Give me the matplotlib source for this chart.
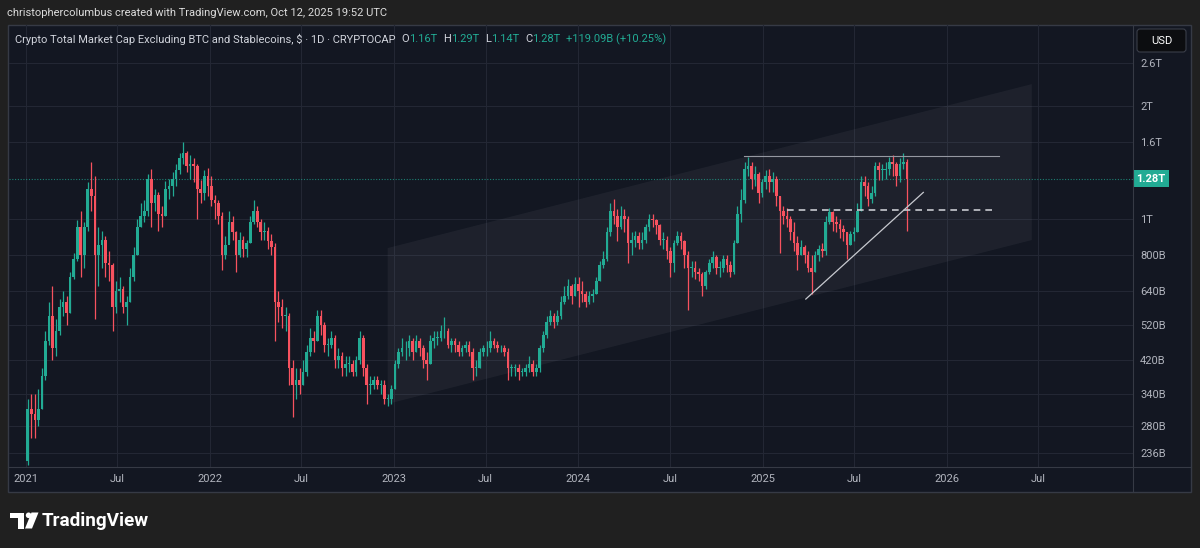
import numpy as np
import pandas as pd
import matplotlib
matplotlib.use('Agg')
import matplotlib.pyplot as plt
import matplotlib.dates as mdates
import matplotlib.transforms as mtransforms
from matplotlib.patches import Rectangle, Polygon, FancyBboxPatch, Circle
from matplotlib.ticker import NullLocator

W, H = 1200, 548
BG = '#202020'
PANEL = '#131722'
GRID = '#232734'
BORDER = '#363a45'
TEXT = '#b2b5be'
UP = '#22ab94'
DOWN = '#f7525f'

# weekly candles (values in billions USD), week 0 starts 2021-01-01
first_open = 225
close = [
    # 2021
    310, 300, 290, 310, 380, 470, 550, 450, 500, 580, 600, 560, 700, 780, 950, 800,
    950, 1200, 1150, 800, 850, 880, 760, 750, 580, 640, 650, 580, 600, 700, 800, 950,
    1020, 1050, 1280, 1100, 1160, 1030, 1020, 1200, 1220, 1280, 1350, 1450, 1500, 1380,
    1400, 1380, 1200, 1170, 1300, 1220,
    # 2022
    1120, 1100, 1020, 800, 850, 980, 920, 800, 880, 830, 860, 980, 1050, 980, 920, 930,
    870, 840, 600, 580, 550, 550, 400, 360, 370, 360, 390, 440, 480, 470, 550, 520,
    460, 460, 480, 420, 430, 400, 410, 410, 390, 420, 480, 400, 360, 360, 370, 360,
    360, 330, 330, 350,
    # 2023
    410, 440, 450, 450, 470, 440, 470, 450, 420, 410, 470, 480, 480, 500, 500, 460,
    470, 460, 440, 450, 460, 440, 400, 400, 440, 450, 450, 470, 460, 450, 450, 440,
    400, 400, 400, 390, 390, 400, 410, 390, 400, 450, 490, 530, 550, 530, 550, 600,
    620, 660, 620, 670,
    # 2024
    640, 630, 600, 620, 630, 680, 750, 780, 920, 1050, 1020, 950, 1020, 1000, 860, 880,
    900, 860, 880, 950, 1000, 990, 960, 880, 880, 820, 760, 860, 900, 870, 800, 740,
    740, 720, 710, 660, 720, 760, 790, 740, 740, 780, 750, 720, 860, 1030, 1120, 1360,
    1380, 1280, 1320, 1170,
    # 2025
    1250, 1300, 1250, 1280, 1150, 1050, 1020, 1000, 920, 860, 800, 840, 800, 740, 720, 800,
    830, 820, 980, 1040, 980, 970, 940, 920, 850, 910, 920, 1050, 1250, 1220, 1130, 1170,
    1380, 1350, 1350, 1360, 1420, 1400, 1300, 1400, 1420, 1280,
]
high = [
    # 2021
    330, 340, 340, 350, 400, 500, 600, 660, 540, 610, 640, 620, 720, 810, 990, 1050,
    980, 1250, 1420, 1300, 950, 930, 900, 820, 760, 680, 700, 660, 620, 740, 840, 1000,
    1100, 1120, 1320, 1360, 1200, 1180, 1080, 1260, 1280, 1330, 1400, 1500, 1600, 1520,
    1480, 1450, 1400, 1270, 1350, 1370,
    # 2022
    1300, 1160, 1120, 1040, 900, 1050, 1020, 930, 920, 900, 880, 1020, 1120, 1080, 1000, 980,
    950, 910, 860, 640, 610, 580, 560, 420, 400, 400, 420, 460, 510, 500, 570, 570,
    530, 480, 500, 490, 450, 440, 430, 430, 420, 430, 500, 490, 410, 380, 380, 380,
    370, 370, 340, 360,
    # 2023
    420, 450, 480, 470, 490, 480, 490, 480, 460, 440, 490, 500, 500, 520, 545, 510,
    480, 480, 470, 460, 470, 470, 450, 420, 450, 460, 470, 500, 480, 470, 460, 460,
    450, 410, 410, 410, 400, 410, 430, 420, 410, 460, 500, 550, 570, 560, 570, 620,
    660, 690, 670, 700,
    # 2024
    700, 680, 640, 640, 650, 700, 770, 820, 950, 1100, 1130, 1060, 1080, 1060, 1020, 920,
    930, 920, 920, 970, 1030, 1030, 1000, 970, 920, 900, 840, 880, 930, 920, 880, 820,
    770, 770, 740, 720, 730, 780, 820, 800, 770, 800, 800, 770, 880, 1080, 1200, 1420,
    1460, 1420, 1380, 1330,
    # 2025
    1280, 1350, 1360, 1330, 1300, 1150, 1080, 1070, 1020, 980, 900, 880, 850, 820, 800, 820,
    850, 860, 1020, 1070, 1050, 1020, 1000, 960, 920, 930, 950, 1100, 1300, 1300, 1250, 1220,
    1420, 1420, 1400, 1420, 1460, 1480, 1420, 1450, 1500, 1440,
]
low = [
    # 2021
    220, 260, 260, 280, 310, 370, 460, 420, 430, 490, 550, 520, 560, 690, 770, 700,
    740, 930, 1050, 540, 660, 740, 700, 680, 500, 560, 600, 560, 520, 600, 680, 800,
    950, 980, 1020, 950, 1050, 930, 950, 1020, 1130, 1150, 1220, 1320, 1400, 1330,
    1280, 1250, 1000, 1100, 1120, 1150,
    # 2022
    1080, 1000, 970, 730, 780, 860, 880, 720, 790, 790, 790, 860, 970, 950, 880, 880,
    830, 800, 470, 530, 510, 500, 360, 295, 330, 340, 360, 380, 430, 440, 470, 490,
    440, 430, 450, 400, 400, 380, 380, 390, 380, 380, 410, 380, 320, 340, 350, 350,
    340, 320, 315, 320,
    # 2023
    350, 400, 430, 420, 430, 420, 440, 430, 400, 370, 410, 450, 460, 470, 480, 450,
    440, 440, 430, 430, 440, 430, 370, 380, 400, 430, 430, 440, 450, 440, 440, 430,
    370, 380, 380, 370, 380, 380, 390, 380, 380, 390, 440, 480, 520, 510, 520, 540,
    590, 610, 590, 620,
    # 2024
    580, 600, 580, 590, 600, 630, 680, 740, 770, 900, 970, 870, 940, 920, 760, 800,
    840, 830, 830, 860, 930, 950, 910, 850, 830, 780, 700, 720, 850, 830, 740, 570,
    700, 690, 680, 620, 650, 710, 740, 710, 700, 720, 720, 700, 710, 860, 980, 1100,
    1300, 1200, 1220, 1100,
    # 2025
    1140, 1200, 1180, 1180, 1080, 810, 970, 950, 880, 820, 730, 800, 760, 720, 630, 720,
    770, 790, 800, 970, 930, 920, 890, 870, 780, 850, 870, 920, 1050, 1150, 1080, 1100,
    1150, 1270, 1270, 1280, 1310, 1300, 1220, 1250, 1360, 930,
]

last_price = 1280
y_ticks = [236, 280, 340, 420, 520, 640, 800, 1000, 1600, 2000, 2600]
y_labels = ['236B', '280B', '340B', '420B', '520B', '640B', '800B', '1T', '1.6T', '2T', '2.6T']
x_ticks = ['2021-01-01', '2021-07-01', '2022-01-01', '2022-07-01', '2023-01-01', '2023-07-01',
           '2024-01-01', '2024-07-01', '2025-01-01', '2025-07-01', '2026-01-01', '2026-07-01']
x_labels = ['2021', 'Jul', '2022', 'Jul', '2023', 'Jul', '2024', 'Jul', '2025', 'Jul', '2026', 'Jul']

# drawings
channel_dates = ['2022-12-19', '2026-06-18']
channel_upper = [835, 2290]
channel_lower = [320, 877]
top_line_dates = ['2024-11-25', '2026-04-14']
top_line_price = 1471
dash_line_dates = ['2025-02-17', '2026-03-31']
dash_line_price = 1057
trend_dates = ['2025-03-27', '2025-11-15']
trend_prices = [610, 1176]

plt.rcParams['font.family'] = ['Roboto', 'DejaVu Sans']

fig = plt.figure(figsize=(W / 100, H / 100), dpi=100, facecolor=BG)

# background panel
bg = fig.add_axes([0, 0, 1, 1], zorder=0)
bg.set_xlim(0, W)
bg.set_ylim(H, 0)
bg.axis('off')
bg.add_patch(Rectangle((8, 25), 1183, 467, fc=PANEL, ec=BORDER, lw=1))

# main chart axes
ax = fig.add_axes([9 / W, 1 - 467 / H, (1132.7 - 9) / W, (467 - 25) / H], zorder=1)
ax.set_facecolor('none')
t0 = mdates.date2num(pd.Timestamp('2021-01-01'))
ax.set_xlim(t0 - 33.7, t0 + 2194.1)
ax.set_yscale('log')
ax.set_ylim(217.0, 3295)
for s in ax.spines.values():
    s.set_visible(False)

ax.yaxis.tick_right()
ax.set_yticks(y_ticks)
ax.set_yticklabels(y_labels)
ax.yaxis.set_minor_locator(NullLocator())
ax.set_xticks(mdates.date2num(pd.to_datetime(x_ticks)))
ax.set_xticklabels(x_labels)
ax.tick_params(axis='y', length=0, pad=5.3, labelsize=8, labelcolor=TEXT)
ax.tick_params(axis='x', length=0, pad=5.0, labelsize=8, labelcolor=TEXT)
ax.grid(True, color=GRID, lw=0.8)
ax.set_axisbelow(True)

# parallel channel
cd = mdates.date2num(pd.to_datetime(channel_dates))
ax.add_patch(Polygon([(cd[0], channel_upper[0]), (cd[1], channel_upper[1]),
                      (cd[1], channel_lower[1]), (cd[0], channel_lower[0])],
                     closed=True, fc='#787b86', alpha=0.11, ec='none', zorder=1))

# candles
weeks = pd.date_range('2021-01-01', periods=len(close), freq='7D')
xc = mdates.date2num(weeks) + 3.5
o = np.array([first_open] + close[:-1], dtype=float)
c = np.array(close, dtype=float)
hi = np.array(high, dtype=float)
lo = np.array(low, dtype=float)
cols = np.where(c >= o, UP, DOWN)
ax.vlines(xc, lo, hi, colors=cols, lw=0.9, zorder=3)
body_lo = np.minimum(o, c)
body_h = np.maximum(np.abs(c - o), body_lo * 0.004)
ax.bar(xc, body_h, bottom=body_lo, width=5.2, color=cols, lw=0, zorder=4)

# drawings
td = mdates.date2num(pd.to_datetime(top_line_dates))
ax.plot(td, [top_line_price] * 2, color='#9598a1', lw=0.8, zorder=5)
dd = mdates.date2num(pd.to_datetime(dash_line_dates))
ax.plot(dd, [dash_line_price] * 2, color='#c8cad0', lw=1.2, ls=(0, (4, 3)), zorder=5)
trd = mdates.date2num(pd.to_datetime(trend_dates))
ax.plot(trd, trend_prices, color='#c8cad0', lw=0.9, zorder=5)

# last price line and label
ax.axhline(last_price, color=UP, lw=0.8, ls=(0, (1, 1.5)), alpha=0.7, zorder=2)
blend = mtransforms.blended_transform_factory(ax.transAxes, ax.transData)
ax.text(1.0 + 3.5 / 1123.7, last_price, '1.28T', transform=blend, ha='left', va='center',
        fontsize=8, fontweight='bold', color='white', clip_on=False,
        bbox=dict(boxstyle='square,pad=0.32', fc=UP, ec='none'), zorder=6)

# foreground decorations
fg = fig.add_axes([0, 0, 1, 1], zorder=5)
fg.set_xlim(0, W)
fg.set_ylim(H, 0)
fg.axis('off')
fg.plot([1132.7, 1132.7], [25, 492], color=BORDER, lw=0.8)
fg.plot([8, 1191], [467, 467], color=BORDER, lw=0.8)
fg.add_patch(FancyBboxPatch((1137, 29), 49, 23, boxstyle='round,pad=0,rounding_size=3',
                            fc='#0c0d10', ec='#3a3e49', lw=0.8))
fg.text(1161.5, 40.8, 'USD', color='white', fontsize=8, ha='center', va='center')

# TradingView logo
fg.add_patch(Rectangle((10, 512.5), 14, 5.5, fc='white', ec='none'))
fg.add_patch(Rectangle((17.5, 512.5), 6.5, 16, fc='white', ec='none'))
fg.add_patch(Circle((28.6, 515.3), 2.8, fc='white', ec='none'))
fg.add_patch(Polygon([(31.5, 512.5), (38.5, 512.5), (32.0, 528.5), (25.0, 528.5)], closed=True,
                     fc='white', ec='none'))
fg.text(42, 520.5, 'TradingView', color='white', fontsize=13.6, fontweight='bold',
        ha='left', va='center')

# header and legend
fig.text(7 / W, 1 - 13.5 / H, 'christophercolumbus created with TradingView.com, Oct 12, 2025 19:52 UTC',
         color='#dcdcdc', fontsize=8, ha='left', va='center')

renderer = fig.canvas.get_renderer()
pieces = [('Crypto Total Market Cap Excluding BTC and Stablecoins, $ \u00b7 1D \u00b7 CRYPTOCAP', '#d1d4dc', 6),
          ('O', '#d1d4dc', 0), ('1.16T', UP, 6), ('H', '#d1d4dc', 0), ('1.29T', UP, 6),
          ('L', '#d1d4dc', 0), ('1.14T', UP, 6), ('C', '#d1d4dc', 0), ('1.28T', UP, 6),
          ('+119.09B (+10.25%)', UP, 0)]
xpos = 15
for txt, col, gap in pieces:
    t = fig.text(xpos / W, 1 - 39.5 / H, txt, color=col, fontsize=8.0, ha='left', va='center')
    xpos += t.get_window_extent(renderer=renderer).width + gap

fig.savefig('out.png', dpi=100, facecolor=BG)
